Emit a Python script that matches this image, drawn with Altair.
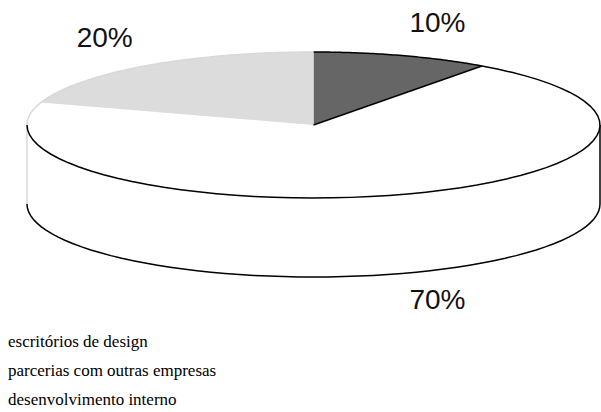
import altair as alt
import pandas as pd

# ---- data ----
categories = ["escritórios de design", "parcerias com outras empresas", "desenvolvimento interno"]
values = [10, 70, 20]
slice_colors = ["#666666", "#ffffff", "#dcdcdc"]

df = pd.DataFrame({"category": categories, "value": values, "order": list(range(len(values)))})

D = 1.082          # depth of the side wall, in units of the vertical radius
N = 60             # samples per arc

X = alt.X("u:Q", scale=alt.Scale(domain=[-1.0942, 1.0035], zero=False, nice=False), axis=None)
Y = alt.Y("v:Q", scale=alt.Scale(domain=[-3.9315, 1.7123], zero=False, nice=False), axis=None)


def base():
    return (
        alt.Chart(df)
        .transform_joinaggregate(total="sum(value)")
        .transform_window(cum="sum(value)", sort=[alt.SortField("order", order="ascending")])
        .transform_calculate(
            f0="(datum.cum - datum.value) / datum.total",
            f1="datum.cum / datum.total",
        )
    )


def rim(lo, hi, voff, color):
    return (
        base()
        .transform_calculate(lo=f"max(datum.f0, {lo})", hi=f"min(datum.f1, {hi})")
        .transform_filter("datum.hi > datum.lo")
        .transform_calculate(k=f"sequence(0, {N + 1})")
        .transform_flatten(["k"])
        .transform_calculate(
            a=f"2 * PI * (datum.lo + (datum.hi - datum.lo) * datum.k / {N})",
            u="sin(datum.a)",
            v=f"cos(datum.a) - {voff}",
        )
        .mark_line(stroke=color, strokeWidth=1.5)
        .encode(x=X, y=Y, order=alt.Order("k:Q"), detail="category:N")
    )


# top face slices (filled polygons: centre, arc, centre)
top = (
    base()
    .transform_calculate(k=f"sequence(0, {N + 3})")
    .transform_flatten(["k"])
    .transform_calculate(
        a=f"2 * PI * (datum.f0 + (datum.f1 - datum.f0) * clamp(datum.k - 1, 0, {N}) / {N})",
        r=f"(datum.k == 0 || datum.k == {N + 2}) ? 0 : 1",
    )
    .transform_calculate(u="datum.r * sin(datum.a)", v="datum.r * cos(datum.a)")
    .mark_line(strokeOpacity=0, strokeWidth=0)
    .encode(
        x=X,
        y=Y,
        order=alt.Order("k:Q"),
        fill=alt.Fill(
            "category:N",
            scale=alt.Scale(domain=categories, range=slice_colors),
            legend=alt.Legend(
                title=None,
                orient="none",
                legendX=-9,
                legendY=333,
                direction="vertical",
                labelFont="Liberation Serif",
                labelFontSize=17,
                labelColor="#000000",
                labelLimit=500,
                labelOffset=0,
                symbolSize=0,
                symbolOpacity=0,
                symbolStrokeWidth=0,
                rowPadding=11,
                padding=0,
            ),
        ),
    )
)

# radial edge at the end of the first slice
radial = (
    base()
    .transform_filter("datum.order == 0")
    .transform_calculate(k="sequence(0, 2)")
    .transform_flatten(["k"])
    .transform_calculate(
        a="2 * PI * datum.f1",
        u="datum.k * sin(datum.a)",
        v="datum.k * cos(datum.a)",
    )
    .mark_line(stroke="#000000", strokeWidth=1.5)
    .encode(x=X, y=Y, order=alt.Order("k:Q"))
)


def vertical(frac, color):
    return (
        alt.Chart(alt.sequence(0, 2, as_="s"))
        .transform_calculate(
            u=f"sin(2 * PI * {frac})",
            v=f"cos(2 * PI * {frac}) - {D} * datum.s",
        )
        .mark_line(stroke=color, strokeWidth=1.5)
        .encode(x=X, y=Y, order=alt.Order("s:Q"))
    )


# percentage labels
labels = (
    base()
    .transform_calculate(
        m="PI * (datum.f0 + datum.f1)",
        txt="format(datum.value / datum.total, '.0%')",
    )
    .transform_calculate(
        u="sin(datum.m) * (sin(datum.m) < 0 ? 1.24 : 1.40)",
        v=f"cos(datum.m) * (cos(datum.m) > 0 ? 1.46 : 1.40) - (cos(datum.m) < 0 ? {D} : 0)",
    )
    .mark_text(font="Liberation Sans", fontSize=28, color="#111111", align="center", baseline="middle")
    .encode(x=X, y=Y, text="txt:N")
)

chart = (
    alt.layer(
        rim(0.25, 0.75, D, "#000000"),
        vertical(0.25, "#000000"),
        vertical(0.75, "#d8d8d8"),
        top,
        rim(0.0, 0.75, 0, "#000000"),
        rim(0.75, 1.0, 0, "#d8d8d8"),
        radial,
        labels,
    )
    .properties(width=601, height=412, padding=0, autosize=alt.AutoSizeParams(type="none"), background="#ffffff")
    .configure_view(stroke=None)
)

chart.save("out.html", embed_options={"renderer": "svg", "actions": False})
